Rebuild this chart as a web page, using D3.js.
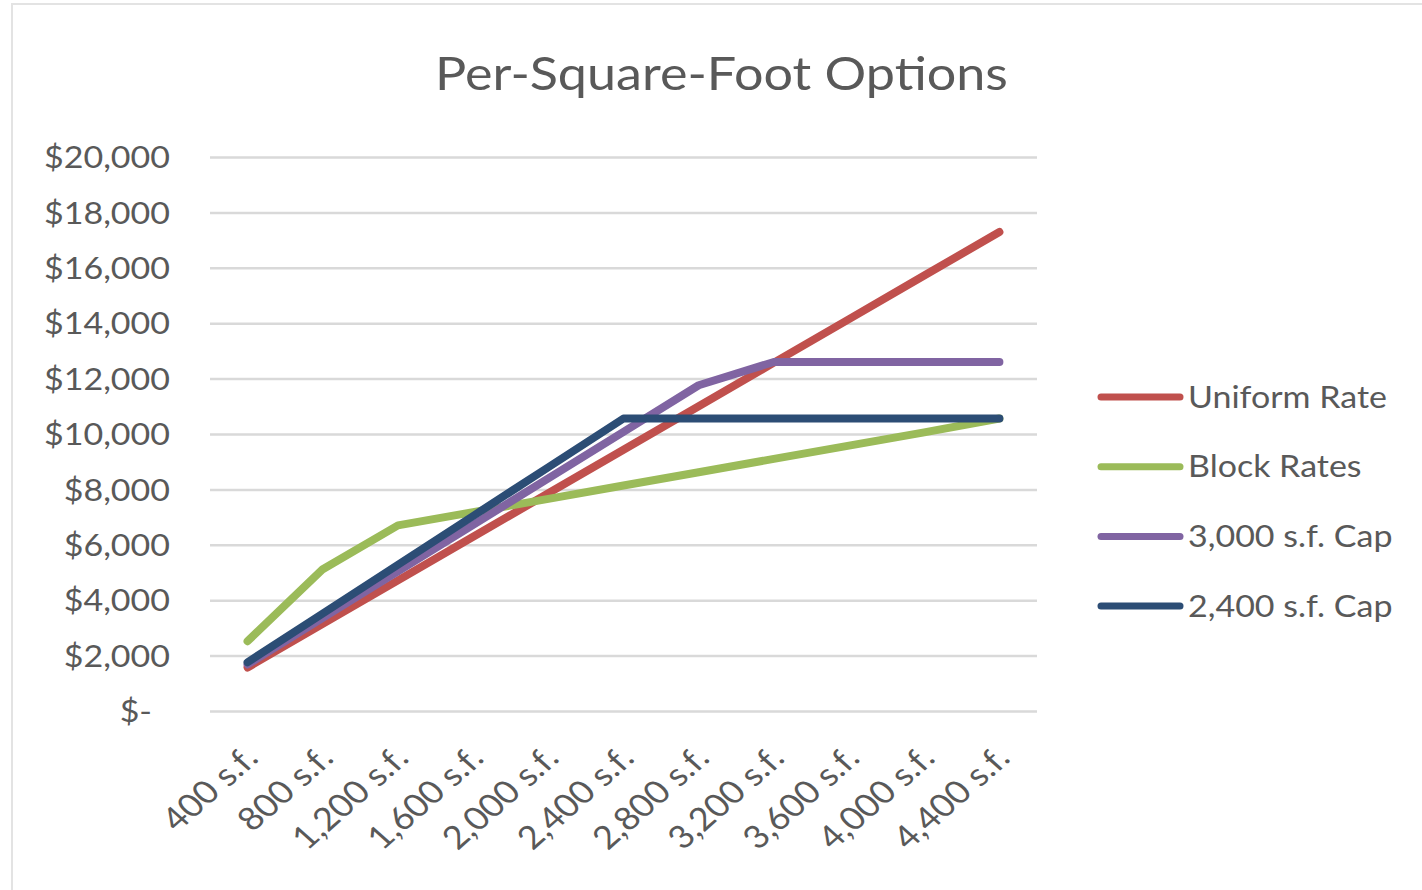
<!DOCTYPE html>
<html>
<head>
<meta charset="utf-8">
<script src="https://cdn.jsdelivr.net/npm/d3@7"></script>
<style>
  html, body { margin: 0; padding: 0; background: #ffffff; }
  svg { display: block; }
  text { font-family: Lato, "Open Sans", "Noto Sans", sans-serif; fill: #595959; }
</style>
</head>
<body>
<svg id="chart" width="1422" height="890"></svg>
<script>
// Square-footage categories along the x axis
const sizes = [400, 800, 1200, 1600, 2000, 2400, 2800, 3200, 3600, 4000, 4400];
const sizeLabels = ["400 s.f.", "800 s.f.", "1,200 s.f.", "1,600 s.f.", "2,000 s.f.", "2,400 s.f.",
                    "2,800 s.f.", "3,200 s.f.", "3,600 s.f.", "4,000 s.f.", "4,400 s.f."];

// Fee under each option, in dollars
const uniformRate = [1572, 3144, 4716, 6288, 7860, 9432, 11004, 12576, 14148, 15720, 17292];
const blockRates  = [2520, 5120, 6700, 7180, 7660, 8140, 8620, 9100, 9580, 10060, 10560];
const cap3000     = [1680, 3360, 5040, 6720, 8400, 10080, 11760, 12600, 12600, 12600, 12600];
const cap2400     = [1760, 3520, 5280, 7040, 8800, 10560, 10560, 10560, 10560, 10560, 10560];

const seriesNames  = ["Uniform Rate", "Block Rates", "3,000 s.f. Cap", "2,400 s.f. Cap"];
const seriesValues = [uniformRate, blockRates, cap3000, cap2400];
const seriesColors = ["#c0504d", "#9bbb59", "#8064a2", "#2c4d75"];

// Value axis ticks
const yTicks = [0, 2000, 4000, 6000, 8000, 10000, 12000, 14000, 16000, 18000, 20000];

const svg = d3.select("#chart");

// outer frame
svg.append("rect")
  .attr("x", 12).attr("y", 4).attr("width", 1440).attr("height", 920)
  .attr("fill", "none").attr("stroke", "#e3e3e3").attr("stroke-width", 2);

const plot = { left: 210, right: 1037, top: 157, bottom: 711 };

// Title; its horizontal stretch sets the stretch used by every other label
const title = svg.append("text")
  .attr("text-anchor", "middle")
  .style("font-size", "46px")
  .text("Per-Square-Foot Options");
const titleLen = title.node().getComputedTextLength();
const sx = 573 / titleLen;
title.attr("transform", `translate(721.5,90) scale(${sx},1)`);

const x = d3.scalePoint().domain(sizes).range([plot.left, plot.right]).padding(0.5);
const y = d3.scaleLinear().domain([0, 20000]).range([plot.bottom, plot.top]);

// gridlines + value labels
const yAxis = d3.axisLeft(y)
  .tickValues(yTicks)
  .tickSize(-(plot.right - plot.left))
  .tickFormat(d => d === 0 ? "$-" : "$" + d3.format(",")(d));

const gy = svg.append("g")
  .attr("transform", `translate(${plot.left},0)`)
  .call(yAxis);
gy.select(".domain").remove();
gy.selectAll(".tick line")
  .attr("stroke", "#d9d9d9").attr("stroke-width", 2.5);
gy.selectAll(".tick text")
  .attr("x", null).attr("dy", null)
  .attr("dominant-baseline", "central")
  .attr("text-anchor", "end")
  .style("font-size", "30px")
  .attr("fill", "#595959")
  .attr("transform", d => `translate(${d === 0 ? -58 : -40},-1) scale(${sx},1)`);

// category labels
const xAxis = d3.axisBottom(x).tickSize(0).tickFormat((d, i) => sizeLabels[i]);
const gx = svg.append("g")
  .attr("transform", `translate(0,${plot.bottom})`)
  .call(xAxis);
gx.select(".domain").remove();
gx.selectAll(".tick text")
  .attr("y", null).attr("dy", null)
  .attr("text-anchor", "end")
  .style("font-size", "32px")
  .attr("fill", "#595959")
  .attr("transform", `translate(12,49) scale(${sx},1) rotate(-45)`);

// series lines
const line = d3.line()
  .x((d, i) => x(sizes[i]))
  .y(d => y(d));

seriesValues.forEach((vals, k) => {
  svg.append("path")
    .datum(vals)
    .attr("d", line)
    .attr("fill", "none")
    .attr("stroke", seriesColors[k])
    .attr("stroke-width", 8)
    .attr("stroke-linejoin", "round")
    .attr("stroke-linecap", "round");
});

// legend
const legend = svg.append("g");
seriesNames.forEach((name, k) => {
  const ly = 397 + k * 69.7;
  legend.append("line")
    .attr("x1", 1101).attr("x2", 1180)
    .attr("y1", ly).attr("y2", ly)
    .attr("stroke", seriesColors[k])
    .attr("stroke-width", 7)
    .attr("stroke-linecap", "round");
  legend.append("text")
    .attr("dominant-baseline", "central")
    .style("font-size", "30px")
    .attr("transform", `translate(1188,${ly - 1}) scale(${sx},1)`)
    .text(name);
});
</script>
</body>
</html>
